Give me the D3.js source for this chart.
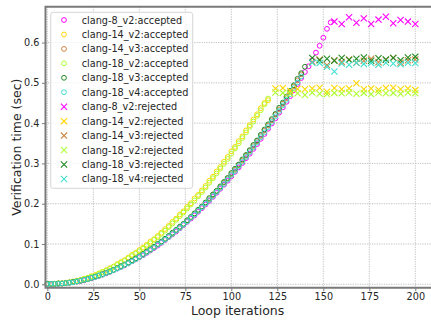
<!DOCTYPE html>
<html>
<head>
<meta charset="utf-8">
<script src="https://cdn.jsdelivr.net/npm/d3@7"></script>
<style>
  html, body { margin: 0; padding: 0; background: #fff; }
  svg { display: block; font-family: "DejaVu Sans", sans-serif; }
</style>
</head>
<body>
<svg id="chart" width="431" height="320"></svg>
<script>
// ---------- data ----------
const accIters = [0,2,4,6,8,10,12,14,16,18,20,22,24,26,28,30,32,34,36,38,40,42,44,46,48,50,52,54,56,58,60,62,64,66,68,70,72,74,76,78,80,82,84,86,88,90,92,94,96,98,100,102,104,106,108,110,112,114,116,118,120,122,124,126,128,130,132,134,136,138,140,142,144,146,148,150,152,154];

const acc_clang8_v2 = [0.000,0.000,0.001,0.001,0.002,0.003,0.004,0.005,0.007,0.008,0.010,0.013,0.015,0.018,0.021,0.024,0.027,0.031,0.035,0.039,0.043,0.047,0.052,0.057,0.062,0.067,0.072,0.078,0.084,0.090,0.096,0.103,0.110,0.117,0.124,0.131,0.139,0.147,0.155,0.163,0.171,0.180,0.189,0.198,0.207,0.217,0.227,0.237,0.247,0.257,0.268,0.279,0.290,0.301,0.313,0.324,0.336,0.348,0.361,0.373,0.386,0.399,0.412,0.426,0.439,0.453,0.467,0.482,0.497,0.512,0.527,0.541,0.556,0.575,0.592,0.612,0.634,0.650];
const acc_clang14_v2 = [0.000,0.001,0.001,0.002,0.003,0.004,0.005,0.007,0.009,0.011,0.014,0.016,0.020,0.023,0.027,0.031,0.035,0.040,0.044,0.050,0.055,0.060,0.066,0.073,0.078,0.085,0.091,0.098,0.106,0.112,0.120,0.128,0.137,0.145,0.155,0.163,0.173,0.181,0.192,0.201,0.213,0.222,0.233,0.244,0.257,0.267,0.280,0.291,0.304,0.316,0.330,0.341,0.355,0.367,0.382,0.395,0.409,0.422,0.437,0.450,0.457];
const acc_clang14_v3 = [0.001,0.001,0.001,0.002,0.002,0.003,0.004,0.005,0.007,0.009,0.011,0.013,0.016,0.019,0.021,0.025,0.028,0.032,0.035,0.040,0.044,0.048,0.053,0.058,0.063,0.068,0.074,0.080,0.086,0.092,0.099,0.105,0.112,0.119,0.126,0.134,0.141,0.149,0.158,0.166,0.175,0.183,0.192,0.202,0.211,0.221,0.231,0.241,0.252,0.262,0.273,0.284,0.296,0.307,0.319,0.331,0.343,0.355,0.368,0.381,0.394,0.407,0.421,0.434,0.448,0.462,0.477,0.491,0.506,0.521];
const acc_clang18_v2 = [0.000,0.001,0.001,0.002,0.002,0.003,0.005,0.006,0.008,0.010,0.013,0.016,0.019,0.022,0.026,0.030,0.034,0.038,0.043,0.048,0.053,0.058,0.064,0.070,0.076,0.082,0.088,0.095,0.102,0.110,0.117,0.125,0.133,0.142,0.151,0.160,0.169,0.178,0.188,0.198,0.208,0.219,0.229,0.240,0.252,0.263,0.275,0.287,0.299,0.311,0.324,0.337,0.350,0.363,0.377,0.391,0.404,0.418,0.432,0.447,0.461];
const acc_clang18_v3 = [0.001,0.001,0.001,0.002,0.002,0.003,0.004,0.006,0.007,0.009,0.011,0.013,0.016,0.019,0.022,0.025,0.029,0.032,0.036,0.040,0.045,0.049,0.054,0.059,0.064,0.069,0.075,0.081,0.087,0.093,0.100,0.106,0.113,0.120,0.128,0.135,0.143,0.150,0.159,0.167,0.176,0.185,0.193,0.203,0.214,0.223,0.232,0.243,0.254,0.264,0.276,0.287,0.297,0.310,0.321,0.333,0.346,0.357,0.371,0.384,0.397,0.410,0.423,0.438,0.451,0.466,0.480,0.494,0.510,0.524,0.540];
const acc_clang18_v4 = [0.000,0.001,0.001,0.001,0.002,0.003,0.004,0.005,0.007,0.009,0.011,0.013,0.016,0.018,0.021,0.024,0.028,0.031,0.035,0.039,0.043,0.048,0.052,0.057,0.062,0.068,0.073,0.079,0.085,0.091,0.098,0.104,0.111,0.118,0.125,0.133,0.140,0.148,0.156,0.165,0.173,0.182,0.191,0.200,0.209,0.219,0.229,0.239,0.249,0.260,0.271,0.281,0.293,0.304,0.316,0.328,0.340,0.352,0.365,0.377,0.390,0.403,0.417,0.430,0.444,0.458,0.472,0.487,0.501,0.516];

const rejIters_clang8 = [156,160,164,168,172,176,180,184,188,192,196,200];
const rejIters_v2 = [124,128,132,136,140,144,148,152,156,160,164,168,172,176,180,184,188,192,196,200];
const rejIters_v34 = [144,148,152,156,160,164,168,172,176,180,184,188,192,196,200];

const rej_clang8_v2 = [0.652,0.646,0.663,0.649,0.660,0.646,0.657,0.664,0.648,0.656,0.652,0.646];
const rej_clang14_v2 = [0.486,0.487,0.480,0.485,0.484,0.486,0.488,0.478,0.487,0.484,0.486,0.499,0.484,0.486,0.483,0.487,0.488,0.484,0.486,0.482];
const rej_clang14_v3 = [0.552,0.558,0.544,0.556,0.552,0.558,0.550,0.555,0.560,0.551,0.557,0.562,0.550,0.556,0.558];
const rej_clang18_v2 = [0.476,0.475,0.473,0.474,0.470,0.476,0.473,0.472,0.475,0.474,0.476,0.473,0.475,0.472,0.476,0.474,0.475,0.473,0.476,0.474];
const rej_clang18_v3 = [0.562,0.556,0.560,0.555,0.562,0.557,0.560,0.563,0.555,0.561,0.558,0.562,0.556,0.563,0.565];
const rej_clang18_v4 = [0.550,0.549,0.540,0.528,0.548,0.545,0.550,0.547,0.549,0.545,0.550,0.548,0.546,0.550,0.549];

const seriesNames = ["clang-8_v2","clang-14_v2","clang-14_v3","clang-18_v2","clang-18_v3","clang-18_v4"];
const seriesColors = ["#ff00ff","#ffd700","#cd853f","#adff2f","#228b22","#40e0d0"];
const accValues = [acc_clang8_v2, acc_clang14_v2, acc_clang14_v3, acc_clang18_v2, acc_clang18_v3, acc_clang18_v4];
const rejIters = [rejIters_clang8, rejIters_v2, rejIters_v34, rejIters_v2, rejIters_v34, rejIters_v34];
const rejValues = [rej_clang8_v2, rej_clang14_v2, rej_clang14_v3, rej_clang18_v2, rej_clang18_v3, rej_clang18_v4];

const xTicks = [0,25,50,75,100,125,150,175,200];
const yTicks = [0.0,0.1,0.2,0.3,0.4,0.5,0.6];

// ---------- layout ----------
const svg = d3.select("#chart");
const L = 45.5, R = 433.7, T = 6.7, B = 287.7;
const x = d3.scaleLinear().domain([-1, 210]).range([L, R]);
const y = d3.scaleLinear().domain([-0.0085, 0.689]).range([B, T]);

// grid
const grid = svg.append("g");
grid.selectAll("line.gx").data(xTicks).join("line")
  .attr("x1", d => x(d)).attr("x2", d => x(d)).attr("y1", T).attr("y2", B)
  .attr("stroke", "#b0b0b0").attr("stroke-width", 0.8).attr("stroke-dasharray", "1.2,1.2");
grid.selectAll("line.gy").data(yTicks).join("line")
  .attr("x1", L).attr("x2", R).attr("y1", d => y(d)).attr("y2", d => y(d))
  .attr("stroke", "#b0b0b0").attr("stroke-width", 0.8).attr("stroke-dasharray", "1.2,1.2");

// accepted points
const cr = 2.4;
const plot = svg.append("g");
accValues.forEach((vals, si) => {
  plot.append("g").selectAll("circle").data(vals).join("circle")
    .attr("cx", (d, i) => x(accIters[i])).attr("cy", d => y(d)).attr("r", cr)
    .attr("fill", "none").attr("stroke", seriesColors[si]).attr("stroke-width", 1);
});
// rejected points
const xs = 3.1;
rejValues.forEach((vals, si) => {
  const its = rejIters[si];
  plot.append("g").selectAll("path").data(vals).join("path")
    .attr("d", (d, i) => {
      const cx = x(its[i]), cy = y(d);
      return `M${cx-xs},${cy-xs}L${cx+xs},${cy+xs}M${cx-xs},${cy+xs}L${cx+xs},${cy-xs}`;
    })
    .attr("fill", "none").attr("stroke", seriesColors[si]).attr("stroke-width", 1.1);
});

// axes
const xAxis = svg.append("g").attr("transform", `translate(0,${B})`)
  .call(d3.axisBottom(x).tickValues(xTicks).tickFormat(d3.format("d")).tickSize(3.5).tickPadding(2));
const yAxis = svg.append("g").attr("transform", `translate(${L},0)`)
  .call(d3.axisLeft(y).tickValues(yTicks).tickFormat(d3.format(".1f")).tickSize(3.5).tickPadding(2.5));
[xAxis, yAxis].forEach(a => {
  a.select(".domain").remove();
  a.selectAll(".tick line").attr("stroke", "#7a7a7a").attr("stroke-width", 1);
  a.selectAll(".tick text").attr("fill", "#262626").style("font-size", "9.7px").style("font-family", "DejaVu Sans");
});

// spines
svg.append("path")
  .attr("d", `M${R},${T}H${L}V${B}H${R}`)
  .attr("fill", "none").attr("stroke", "#7a7a7a").attr("stroke-width", 2);

// axis labels
svg.append("text").attr("x", (L + R) / 2 - 2).attr("y", 314.5)
  .attr("text-anchor", "middle").attr("fill", "#262626").style("font-size", "12.5px")
  .text("Loop iterations");
svg.append("text").attr("transform", `translate(20.5,${(T + B) / 2}) rotate(-90)`)
  .attr("text-anchor", "middle").attr("fill", "#262626").style("font-size", "12.5px")
  .text("Verification time (sec)");

// legend
const leg = svg.append("g");
leg.append("rect").attr("x", 50.7).attr("y", 12.3).attr("width", 142).attr("height", 176)
  .attr("rx", 2.5).attr("fill", "#fff").attr("fill-opacity", 0.8)
  .attr("stroke", "#d6d6d6").attr("stroke-width", 1);
const legendItems = [];
seriesNames.forEach((n, i) => legendItems.push({label: n + ":accepted", color: seriesColors[i], kind: "o"}));
seriesNames.forEach((n, i) => legendItems.push({label: n + ":rejected", color: seriesColors[i], kind: "x"}));
legendItems.forEach((it, i) => {
  const cy = 20 + i * 14.45;
  if (it.kind === "o") {
    leg.append("circle").attr("cx", 64).attr("cy", cy).attr("r", cr)
      .attr("fill", "none").attr("stroke", it.color).attr("stroke-width", 1);
  } else {
    leg.append("path")
      .attr("d", `M${64-xs},${cy-xs}L${64+xs},${cy+xs}M${64-xs},${cy+xs}L${64+xs},${cy-xs}`)
      .attr("stroke", it.color).attr("stroke-width", 1.1);
  }
  leg.append("text").attr("x", 81.7).attr("y", cy + 3.5).attr("fill", "#262626")
    .style("font-size", "9.7px").text(it.label);
});
</script>
</body>
</html>
